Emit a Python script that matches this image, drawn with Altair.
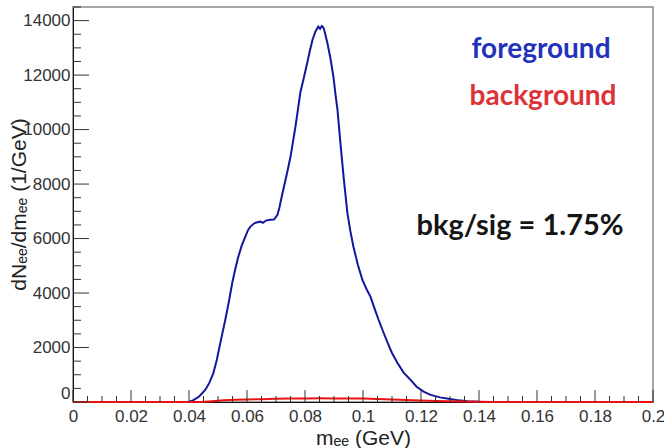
import altair as alt
import pandas as pd

# ---- data ----
fg_x = [0.0, 0.040, 0.0415, 0.0435, 0.0456, 0.0470, 0.0484, 0.0496, 0.0508, 0.0525,
        0.0537, 0.0549, 0.0560, 0.0570, 0.0582, 0.0594, 0.0603, 0.0611, 0.0625, 0.0636,
        0.0646, 0.0655, 0.0665, 0.0680, 0.0693, 0.0705, 0.0712, 0.0718, 0.0725, 0.0738,
        0.0750, 0.0767, 0.0784, 0.0796, 0.0808, 0.0817, 0.0826, 0.0836, 0.0846, 0.0852,
        0.0858, 0.0864, 0.0870, 0.0877, 0.0888, 0.0898, 0.0905, 0.0912, 0.0922, 0.0933,
        0.0946, 0.0956, 0.0967, 0.0982, 0.0998, 0.1012, 0.1026, 0.1040, 0.1054, 0.1070,
        0.1085, 0.1100, 0.1119, 0.1140, 0.1164, 0.1185, 0.1209, 0.1233, 0.1265, 0.1300,
        0.1330, 0.1360, 0.1400, 0.1420, 0.2]
fg_y = [0, 0, 70, 200, 440, 700, 1060, 1550, 2170, 3010,
        3650, 4370, 4900, 5330, 5750, 6060, 6300, 6430, 6560, 6600,
        6620, 6580, 6660, 6690, 6700, 6870, 7150, 7450, 7790, 8400,
        9000, 10100, 11360, 11900, 12460, 12900, 13300, 13600, 13780, 13700,
        13800, 13740, 13500, 13190, 12600, 11940, 11300, 10730, 9520, 8270,
        6950, 6300, 5700, 5050, 4480, 4150, 3860, 3430, 3010, 2570,
        2170, 1800, 1430, 1080, 810, 560, 380, 260, 170, 110,
        60, 30, 5, 0, 0]

bg_x = [0.0, 0.044, 0.048, 0.052, 0.056, 0.060, 0.065, 0.070, 0.075, 0.080, 0.085,
        0.090, 0.095, 0.100, 0.105, 0.110, 0.115, 0.120, 0.125, 0.130, 0.135,
        0.140, 0.145, 0.150, 0.2]
bg_y = [0, 0, 30, 60, 80, 95, 105, 115, 125, 130, 135,
        130, 130, 125, 110, 95, 75, 55, 40, 25, 15,
        8, 4, 0, 0]

x_major = [0, 0.02, 0.04, 0.06, 0.08, 0.1, 0.12, 0.14, 0.16, 0.18, 0.2]
y_major = [0, 2000, 4000, 6000, 8000, 10000, 12000, 14000]
x_minor = [round(i * 0.005, 3) for i in range(41) if i % 4 != 0]
y_minor = [i * 500 for i in range(30) if i % 4 != 0]

labels = ["foreground", "background"]
label_colors = ["#2233bb", "#dd3338"]
ratio_text = "bkg/sig = 1.75%"

fg = pd.DataFrame({"m": fg_x, "v": fg_y})
bg = pd.DataFrame({"m": bg_x, "v": bg_y})

xs = alt.Scale(domain=[0, 0.2], nice=False, zero=False)
ys = alt.Scale(domain=[0, 14500], nice=False)

x_axis = alt.Axis(values=x_major, format="~g", ticks=False, grid=False,
                  labelFont="Liberation Sans", labelFontSize=17, labelColor="#333",
                  labelPadding=6, labelFlush=False, domainColor="#111", domainWidth=1,
                  title="mₑₑ (GeV)", titleFont="Liberation Sans", titleFontSize=21,
                  titleFontWeight="normal", titleColor="#222", titleY=42,
                  titleBaseline="alphabetic")
y_axis = alt.Axis(values=y_major, format="d", ticks=False, grid=False,
                  labelFont="Liberation Sans", labelFontSize=17, labelColor="#333",
                  labelPadding=3, labelFlush=True, domainColor="#111", domainWidth=1,
                  title="dNₑₑ/dmₑₑ (1/GeV)", titleFont="Liberation Sans",
                  titleFontSize=21, titleFontWeight="normal", titleColor="#222",
                  titleAngle=270, titleX=-48, titleY=197, titleAlign="center",
                  titleBaseline="alphabetic")

fg_line = alt.Chart(fg).mark_line(color="#13179a", strokeWidth=2).encode(
    x=alt.X("m:Q", scale=xs, axis=x_axis),
    y=alt.Y("v:Q", scale=ys, axis=y_axis),
)
bg_line = alt.Chart(bg).mark_line(color="#ee1111", strokeWidth=2).encode(
    x=alt.X("m:Q", scale=xs),
    y=alt.Y("v:Q", scale=ys),
)

tick_col = "#333"
xmaj = alt.Chart(pd.DataFrame({"t": x_major})).mark_rule(color=tick_col, strokeWidth=1).encode(
    x=alt.X("t:Q", scale=xs), y=alt.value(395), y2=alt.value(383))
xmin = alt.Chart(pd.DataFrame({"t": x_minor})).mark_rule(color=tick_col, strokeWidth=1).encode(
    x=alt.X("t:Q", scale=xs), y=alt.value(395), y2=alt.value(389))
ymaj = alt.Chart(pd.DataFrame({"t": y_major})).mark_rule(color=tick_col, strokeWidth=1).encode(
    y=alt.Y("t:Q", scale=ys), x=alt.value(0), x2=alt.value(16))
ymin = alt.Chart(pd.DataFrame({"t": y_minor})).mark_rule(color=tick_col, strokeWidth=1).encode(
    y=alt.Y("t:Q", scale=ys), x=alt.value(0), x2=alt.value(8))

fg_text = alt.Chart(pd.DataFrame({"t": [labels[0]]})).mark_text(
    font="Lato", fontSize=28, fontWeight="bold", color=label_colors[0],
    align="center", baseline="alphabetic").encode(
    text="t:N", x=alt.value(468), y=alt.value(51))
bg_text = alt.Chart(pd.DataFrame({"t": [labels[1]]})).mark_text(
    font="Lato", fontSize=28, fontWeight="bold", color=label_colors[1],
    align="center", baseline="alphabetic").encode(
    text="t:N", x=alt.value(470), y=alt.value(98))
ratio = alt.Chart(pd.DataFrame({"t": [ratio_text]})).mark_text(
    font="Lato", fontSize=29, fontWeight="bold", color="#151515",
    align="center", baseline="alphabetic").encode(
    text="t:N", x=alt.value(447), y=alt.value(228))

chart = alt.layer(fg_line, bg_line, xmaj, xmin, ymaj, ymin, fg_text, bg_text, ratio).properties(
    width=580, height=395,
    padding={"left": 73, "top": 7, "right": 11, "bottom": 46},
    autosize="none",
    background="white",
).configure_view(stroke="#888", strokeWidth=1.5)

chart.save("out.html", embed_options={"renderer": "svg", "actions": False})
